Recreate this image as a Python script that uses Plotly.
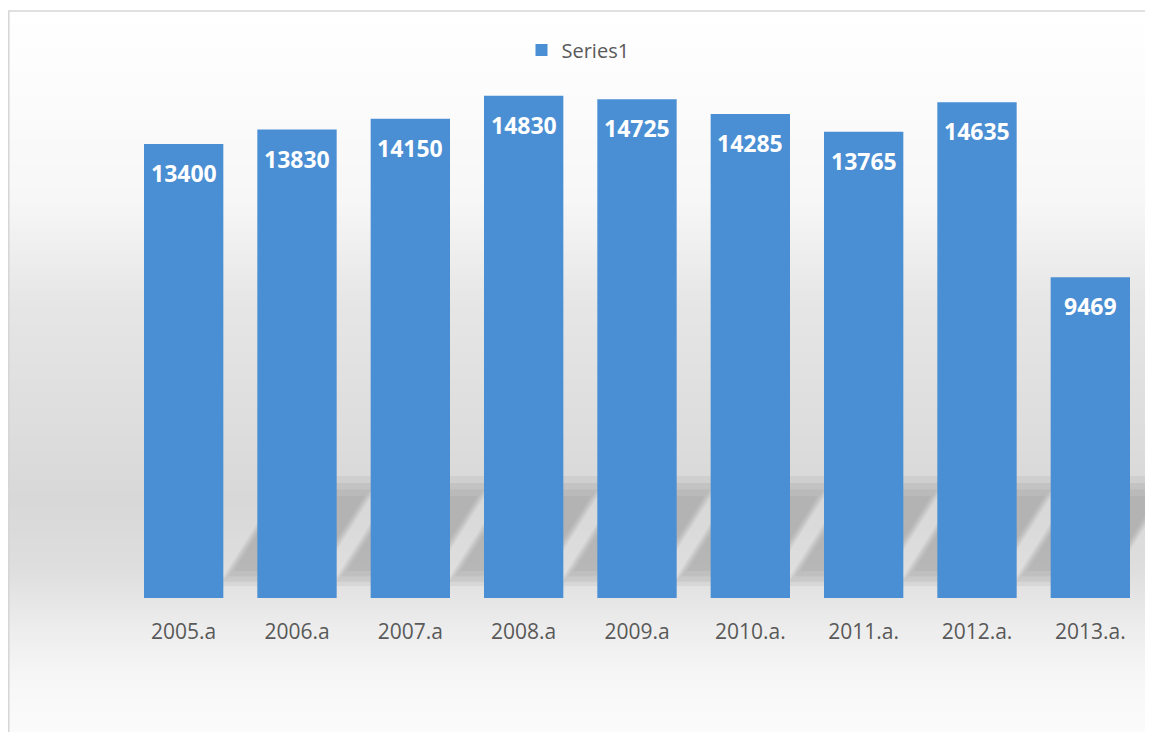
import plotly.graph_objects as go

categories = ["2005.a", "2006.a", "2007.a", "2008.a", "2009.a", "2010.a.", "2011.a.", "2012.a.", "2013.a."]
values = [13400, 13830, 14150, 14830, 14725, 14285, 13765, 14635, 9469]
series_name = "Series1"

OFF = 8  # page body margin
W, H = 1145, 724
ML, MR, MT, MB = 119, 6, 48, 134
PW = W - ML - MR
PH = H - MT - MB

def px_to_paper_y(py):
    return (H - MB - (py - OFF)) / PH

def px_to_paper_x(px):
    return (px - OFF - ML) / PW

fig = go.Figure()
fig.add_trace(go.Bar(
    x=categories, y=values, name=series_name,
    marker=dict(color="#4a8ed3", line=dict(width=0)),
    showlegend=True,
))

annotations = []
for c, v in zip(categories, values):
    annotations.append(dict(
        x=c, y=v, xref="x", yref="y", text=str(v), showarrow=False,
        yshift=-29, font=dict(family="Open Sans", size=23, color="white", weight="bold"),
    ))

shapes = []
stops = [(11, 255), (200, 247), (300, 230), (500, 216), (570, 222), (620, 235), (680, 247), (745, 252)]
def grey_at(py):
    for (y0, c0), (y1, c1) in zip(stops[:-1], stops[1:]):
        if y0 <= py <= y1:
            t = (py - y0) / (y1 - y0)
            return round(c0 + (c1 - c0) * t)
    return stops[-1][1]

step = 4
py = 11
while py < 745:
    g = grey_at(py + step / 2)
    shapes.append(dict(
        type="rect", xref="paper", yref="paper", layer="below",
        x0=px_to_paper_x(8), x1=px_to_paper_x(1170),
        y0=px_to_paper_y(py + step + 0.5), y1=px_to_paper_y(py),
        fillcolor=f"rgb({g},{g},{g})", line=dict(width=0),
    ))
    py += step

# soft skewed shadows cast by the bars (decoration, nested layers for soft edges)
n = len(categories)
sh_left = -0.77
sh_width = 0.85
sh_dx = 0.636
sh_h = 0.2085
layers = [(0.00, 0.022, 0.225, 0.08), (0.02, 0.030, 0.212, 0.10),
          (0.04, 0.040, 0.200, 0.08), (0.06, 0.050, 0.188, 0.07)]
for i in range(1, n):
    for shrink, ylo, yhi, a in layers:
        s0 = ylo / sh_h * sh_dx
        s1 = yhi / sh_h * sh_dx
        xl = i + sh_left + shrink
        xr = i + sh_left + sh_width - shrink
        shapes.append(dict(
            type="path", xref="x", yref="paper", layer="below",
            path=(f"M {xl + s0} {ylo} L {xr + s0} {ylo} L {xr + s1} {yhi} "
                  f"L {xl + s1} {yhi} Z"),
            fillcolor=f"rgba(95,95,95,{a:.3f})", line=dict(width=0),
        ))

shapes.append(dict(
    type="rect", xref="paper", yref="paper", layer="below",
    x0=px_to_paper_x(8.8), x1=px_to_paper_x(1175),
    y0=px_to_paper_y(760), y1=px_to_paper_y(11),
    fillcolor="rgba(0,0,0,0)", line=dict(color="#d6d6d6", width=1.5),
))

fig.update_layout(
    width=W, height=H,
    margin=dict(l=ML, r=MR, t=MT, b=MB),
    paper_bgcolor="white", plot_bgcolor="rgba(0,0,0,0)",
    bargap=0.3,
    shapes=shapes, annotations=annotations,
    legend=dict(orientation="h", x=px_to_paper_x(578), xanchor="center",
                y=px_to_paper_y(50), yanchor="middle",
                font=dict(family="Open Sans", size=20, color="#595959"),
                bgcolor="rgba(0,0,0,0)", itemwidth=30),
    xaxis=dict(range=[-0.5, n - 0.5], showgrid=False, showline=False,
               zeroline=False, ticks="", ticklabelstandoff=19,
               tickfont=dict(family="Open Sans", size=21, color="#595959")),
    yaxis=dict(range=[0, 16000], visible=False, showgrid=False, zeroline=False),
    font=dict(family="Open Sans"),
)

fig.write_html("out.html")
